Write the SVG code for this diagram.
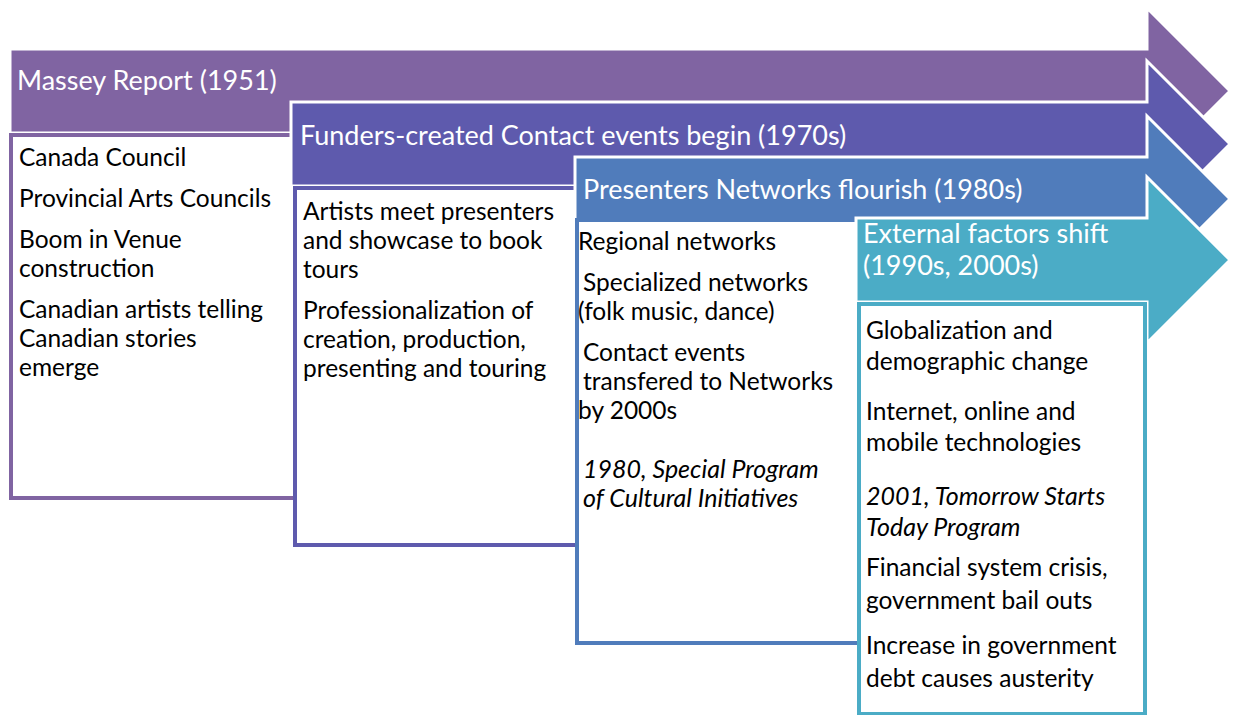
<svg xmlns="http://www.w3.org/2000/svg" width="1233" height="715" viewBox="0 0 1233 715">
<style>
.arrow{stroke:#fff;stroke-width:3;stroke-linejoin:miter}
.box{fill:#fff;stroke-width:4}
.hd{font-family:Lato,"Open Sans",sans-serif;font-size:27px;fill:#fff}
.tx{font-family:Lato,"Open Sans",sans-serif;font-size:24.5px;fill:#000}
.it{font-style:italic;font-size:25px}
</style>
<rect width="1233" height="715" fill="#fff"/>
<g id="stage1">
<path class="arrow" fill="#8064A2" d="M10,49 H1147 V8 L1230,91 L1147,174 V133 H10 Z"/>
<rect class="box" stroke="#8064A2" x="11" y="135" width="400" height="363"/>
<text class="hd" x="17" y="90">Massey Report (1951)</text>
<text class="tx" x="19" y="166">Canada Council</text>
<text class="tx" x="19" y="207">Provincial Arts Councils</text>
<text class="tx" x="19" y="248">Boom in Venue</text>
<text class="tx" x="19" y="277">construction</text>
<text class="tx" x="19" y="318">Canadian artists telling</text>
<text class="tx" x="19" y="347">Canadian stories</text>
<text class="tx" x="19" y="376">emerge</text>
</g>
<g id="stage2">
<path class="arrow" fill="#5E5AAD" d="M291,102 H1147 V61 L1230,144 L1147,227 V186 H291 Z"/>
<rect class="box" stroke="#5E5AAD" x="295" y="188" width="400" height="357"/>
<text class="hd" x="300" y="145">Funders-created Contact events begin (1970s)</text>
<text class="tx" x="303" y="220">Artists meet presenters</text>
<text class="tx" x="303" y="249">and showcase to book</text>
<text class="tx" x="303" y="278">tours</text>
<text class="tx" x="303" y="319">Professionalization of</text>
<text class="tx" x="303" y="348">creation, production,</text>
<text class="tx" x="303" y="377">presenting and touring</text>
</g>
<g id="stage3">
<path class="arrow" fill="#507CBB" d="M575,157 H1147 V116 L1230,199 L1147,282 V241 H575 Z"/>
<rect class="box" stroke="#507CBB" x="577" y="220" width="400" height="423"/>
<text class="hd" x="583" y="199">Presenters Networks flourish (1980s)</text>
<text class="tx" x="578" y="250">Regional networks</text>
<text class="tx" x="583" y="291">Specialized networks</text>
<text class="tx" x="578" y="320">(folk music, dance)</text>
<text class="tx" x="583" y="361">Contact events</text>
<text class="tx" x="583" y="390">transfered to Networks</text>
<text class="tx" x="578" y="419">by 2000s</text>
<text class="tx it" x="583" y="478">1980, Special Program</text>
<text class="tx it" x="583" y="507">of Cultural Initiatives</text>
</g>
<g id="stage4">
<path class="arrow" fill="#4BACC6" d="M856,218 H1147 V177 L1230,260 L1147,343 V302 H856 Z"/>
<rect class="box" stroke="#4BACC6" x="859" y="304" width="286" height="410"/>
<text class="hd" x="863" y="243">External factors shift</text>
<text class="hd" x="863" y="275">(1990s, 2000s)</text>
<text class="tx" x="866" y="339">Globalization and</text>
<text class="tx" x="866" y="370">demographic change</text>
<text class="tx" x="866" y="420">Internet, online and</text>
<text class="tx" x="866" y="451">mobile technologies</text>
<text class="tx it" x="866" y="505">2001, Tomorrow Starts</text>
<text class="tx it" x="866" y="536">Today Program</text>
<text class="tx" x="866" y="576">Financial system crisis,</text>
<text class="tx" x="866" y="609">government bail outs</text>
<text class="tx" x="866" y="654">Increase in government</text>
<text class="tx" x="866" y="687">debt causes austerity</text>
</g>
<g id="connectors"></g>
</svg>
